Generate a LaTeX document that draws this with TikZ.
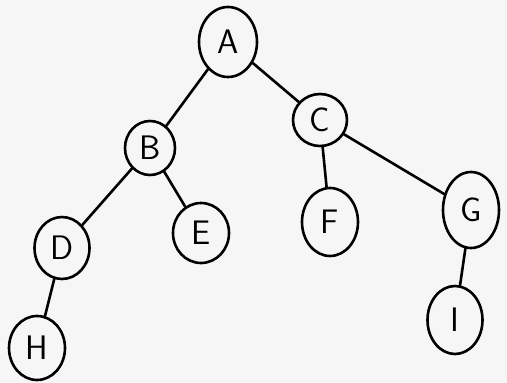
\documentclass[tikz,border=0pt]{standalone}
\usetikzlibrary{shapes.geometric}
\begin{document}
\begin{tikzpicture}[x=1pt,y=-1pt,
  vertex/.style={ellipse,draw=black,line width=2.6pt,inner sep=0pt,font=\fontsize{34}{36}\selectfont\sffamily},
  edge/.style={draw=black,line width=2.6pt,line cap=round}]
\fill[gray!7] (0,0) rectangle (507,383);
\useasboundingbox (0,0) rectangle (507,383);
\node[vertex,minimum width=58pt,minimum height=70pt] (A) at (228,42) {A};
\node[vertex,minimum width=50pt,minimum height=54pt] (B) at (150,148) {B};
\node[vertex,minimum width=54pt,minimum height=52pt] (C) at (320,120) {C};
\node[vertex,minimum width=55pt,minimum height=62pt] (D) at (62,248) {D};
\node[vertex,minimum width=56pt,minimum height=60pt] (E) at (201,233) {E};
\node[vertex,minimum width=56pt,minimum height=68pt] (F) at (330,222) {F};
\node[vertex,minimum width=56pt,minimum height=76pt] (G) at (471,210) {G};
\node[vertex,minimum width=56pt,minimum height=64pt] (H) at (37,348) {H};
\node[vertex,minimum width=55pt,minimum height=68pt] (I) at (455,320) {I};
\draw[edge] (A) -- (B);
\draw[edge] (A) -- (C);
\draw[edge] (B) -- (D);
\draw[edge] (B) -- (E);
\draw[edge] (C) -- (F);
\draw[edge] (C) -- (G);
\draw[edge] (D) -- (H);
\draw[edge] (G) -- (I);
\end{tikzpicture}
\end{document}
